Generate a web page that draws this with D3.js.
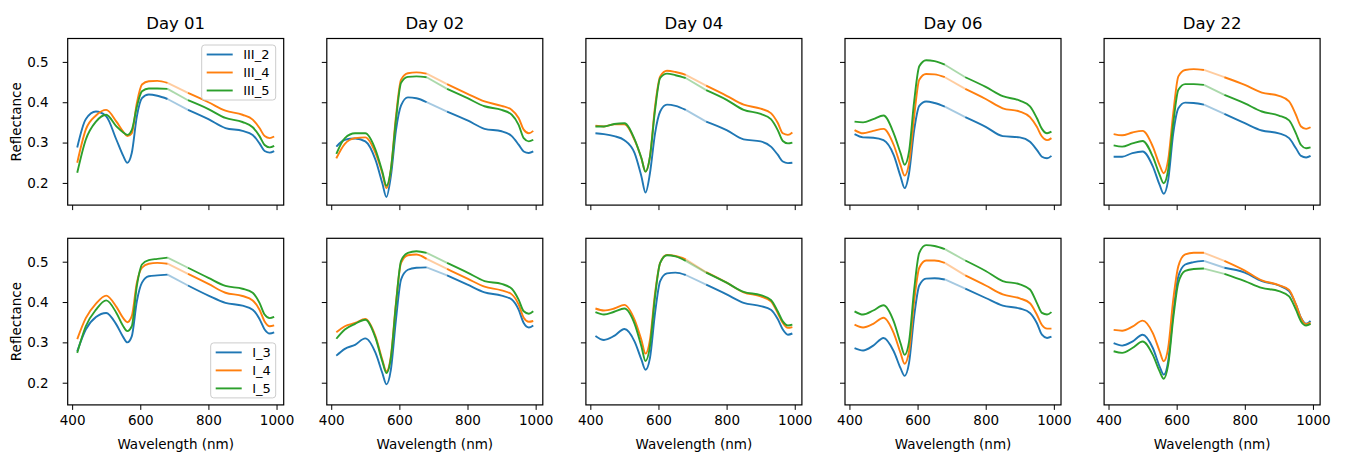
<!DOCTYPE html>
<html>
<head>
<meta charset="utf-8">
<script src="https://cdn.jsdelivr.net/npm/d3@7"></script>
<style>
  body { margin: 0; background: #fff; }
  svg text { font-family: "DejaVu Sans", sans-serif; fill: #000; }
</style>
</head>
<body>
<svg id="chart" width="1345" height="455"></svg>
<script>
// wavelengths (nm) where the spectra were read
const wavelengths = [415, 440, 470, 500, 530, 550, 562, 575, 590, 605, 625, 650, 680, 740, 800, 850, 900, 930, 950, 965, 980, 993]
const days = ['Day 01', 'Day 02', 'Day 04', 'Day 06', 'Day 22']
const topSeries = ['III_2', 'III_4', 'III_5']
const bottomSeries = ['I_3', 'I_4', 'I_5']
const xTicks = [400, 600, 800, 1000]
const yTicks = [0.2, 0.3, 0.4, 0.5]
const colors = ['#1f77b4', '#ff7f0e', '#2ca02c']

// top row: III_2, III_4, III_5
const d01Top = [
  [0.288,0.358,0.377,0.365,0.307,0.267,0.25,0.274,0.365,0.41,0.419,0.416,0.408,0.381,0.358,0.336,0.329,0.319,0.298,0.279,0.275,0.279],
  [0.25,0.332,0.367,0.381,0.352,0.327,0.316,0.323,0.398,0.444,0.452,0.453,0.448,0.423,0.4,0.379,0.369,0.357,0.336,0.316,0.311,0.315],
  [0.225,0.307,0.352,0.369,0.34,0.325,0.319,0.331,0.389,0.427,0.434,0.434,0.433,0.405,0.383,0.361,0.351,0.338,0.316,0.294,0.288,0.292]
]
const d02Top = [
  [0.29,0.307,0.31,0.303,0.257,0.199,0.165,0.216,0.33,0.392,0.412,0.41,0.4,0.377,0.355,0.334,0.328,0.316,0.295,0.278,0.274,0.278],
  [0.261,0.297,0.311,0.313,0.274,0.224,0.187,0.233,0.365,0.456,0.472,0.474,0.471,0.445,0.421,0.402,0.391,0.381,0.361,0.332,0.323,0.329],
  [0.272,0.311,0.323,0.323,0.282,0.228,0.193,0.233,0.356,0.448,0.463,0.464,0.462,0.433,0.41,0.39,0.381,0.369,0.344,0.311,0.303,0.307]
]
const d04Top = [
  [0.323,0.321,0.316,0.306,0.274,0.216,0.176,0.224,0.323,0.377,0.394,0.391,0.381,0.352,0.331,0.308,0.303,0.29,0.27,0.253,0.249,0.25],
  [0.342,0.34,0.345,0.345,0.306,0.261,0.228,0.265,0.39,0.464,0.478,0.475,0.468,0.441,0.416,0.394,0.384,0.373,0.349,0.323,0.319,0.325],
  [0.34,0.34,0.346,0.348,0.308,0.261,0.228,0.265,0.381,0.46,0.471,0.467,0.46,0.43,0.406,0.381,0.371,0.358,0.331,0.304,0.298,0.3]
]
const d06Top = [
  [0.321,0.313,0.312,0.306,0.269,0.216,0.187,0.224,0.331,0.391,0.402,0.398,0.389,0.363,0.339,0.316,0.313,0.302,0.282,0.265,0.261,0.267],
  [0.331,0.323,0.329,0.334,0.294,0.244,0.218,0.249,0.365,0.456,0.47,0.469,0.462,0.433,0.408,0.385,0.377,0.363,0.339,0.315,0.306,0.311],
  [0.352,0.35,0.358,0.367,0.323,0.274,0.245,0.278,0.402,0.489,0.504,0.502,0.493,0.462,0.438,0.415,0.404,0.39,0.361,0.334,0.323,0.327]
]
const d22Top = [
  [0.265,0.265,0.274,0.278,0.241,0.195,0.173,0.207,0.323,0.385,0.399,0.398,0.394,0.371,0.348,0.33,0.323,0.311,0.286,0.267,0.263,0.267],
  [0.321,0.318,0.325,0.329,0.29,0.244,0.224,0.257,0.373,0.464,0.48,0.482,0.48,0.462,0.443,0.424,0.416,0.402,0.369,0.34,0.334,0.338],
  [0.293,0.29,0.298,0.304,0.265,0.22,0.199,0.232,0.348,0.431,0.445,0.445,0.443,0.418,0.397,0.377,0.367,0.355,0.323,0.294,0.286,0.288]
]

// bottom row: I_3, I_4, I_5
const d01Bottom = [
  [0.278,0.332,0.363,0.373,0.344,0.313,0.3,0.315,0.402,0.448,0.464,0.466,0.468,0.441,0.416,0.398,0.391,0.381,0.358,0.332,0.322,0.325],
  [0.308,0.36,0.396,0.416,0.388,0.36,0.35,0.365,0.448,0.485,0.495,0.497,0.495,0.47,0.445,0.423,0.415,0.404,0.381,0.352,0.34,0.342],
  [0.274,0.34,0.381,0.404,0.373,0.34,0.328,0.34,0.44,0.493,0.504,0.507,0.51,0.485,0.46,0.44,0.433,0.423,0.398,0.369,0.36,0.363]
]
const d02Bottom = [
  [0.267,0.284,0.294,0.31,0.274,0.224,0.196,0.232,0.356,0.456,0.48,0.485,0.486,0.466,0.443,0.424,0.416,0.406,0.381,0.348,0.337,0.342],
  [0.325,0.34,0.348,0.358,0.315,0.257,0.228,0.265,0.398,0.497,0.516,0.518,0.507,0.482,0.458,0.438,0.429,0.419,0.394,0.361,0.351,0.353],
  [0.309,0.332,0.346,0.356,0.311,0.253,0.224,0.261,0.394,0.502,0.522,0.526,0.522,0.497,0.473,0.452,0.445,0.433,0.406,0.377,0.371,0.377]
]
const d04Bottom = [
  [0.316,0.306,0.316,0.333,0.302,0.257,0.232,0.261,0.373,0.452,0.471,0.473,0.467,0.443,0.419,0.398,0.39,0.381,0.358,0.332,0.319,0.322],
  [0.384,0.379,0.384,0.393,0.356,0.306,0.272,0.306,0.422,0.497,0.517,0.514,0.506,0.474,0.448,0.424,0.414,0.402,0.373,0.348,0.336,0.338],
  [0.375,0.369,0.376,0.384,0.346,0.29,0.254,0.29,0.414,0.497,0.516,0.513,0.502,0.473,0.448,0.425,0.417,0.405,0.377,0.352,0.342,0.344]
]
const d06Bottom = [
  [0.286,0.28,0.292,0.311,0.278,0.236,0.217,0.249,0.365,0.441,0.458,0.459,0.456,0.433,0.41,0.391,0.384,0.373,0.348,0.319,0.311,0.314],
  [0.344,0.337,0.346,0.361,0.323,0.274,0.247,0.278,0.402,0.485,0.503,0.503,0.497,0.466,0.441,0.419,0.409,0.397,0.369,0.343,0.334,0.334],
  [0.377,0.369,0.379,0.392,0.352,0.298,0.269,0.302,0.431,0.522,0.541,0.539,0.531,0.503,0.477,0.452,0.444,0.431,0.398,0.373,0.369,0.375]
]
const d22Bottom = [
  [0.298,0.292,0.302,0.319,0.286,0.24,0.22,0.253,0.373,0.464,0.493,0.499,0.502,0.485,0.473,0.452,0.441,0.427,0.394,0.361,0.346,0.353],
  [0.331,0.329,0.339,0.354,0.323,0.278,0.253,0.286,0.406,0.489,0.518,0.522,0.522,0.502,0.478,0.454,0.442,0.43,0.394,0.36,0.345,0.349],
  [0.278,0.274,0.286,0.302,0.269,0.228,0.21,0.244,0.36,0.448,0.477,0.482,0.483,0.47,0.452,0.435,0.427,0.414,0.381,0.352,0.342,0.346]
]

const rows = [
  { series: topSeries, data: [d01Top, d02Top, d04Top, d06Top, d22Top] },
  { series: bottomSeries, data: [d01Bottom, d02Bottom, d04Bottom, d06Bottom, d22Bottom] }
]

// layout
const panelW = 216, panelH = 166.6
const left0 = 67.7, stepX = 259.1
const rowTops = [38.5, 238.3]
const tickLen = 5, lineW = 1.9
const fadeFrom = 680, fadeTo = 740

const x = d3.scaleLinear().domain([387, 1021]).range([0, panelW])
const y = d3.scaleLinear().domain([0.145, 0.558]).range([panelH, 0])

const svg = d3.select('#chart')

const smooth = d3.line().x(d => x(d.w)).y(d => y(d.v)).curve(d3.curveMonotoneX)
const straight = d3.line().x(d => x(d.w)).y(d => y(d.v))

rows.forEach((row, ri) => {
  row.data.forEach((panel, ci) => {
    const g = svg.append('g').attr('transform', `translate(${left0 + ci * stepX},${rowTops[ri]})`)

    // x axis
    const xa = g.append('g').attr('transform', `translate(0,${panelH})`)
      .call(d3.axisBottom(x).tickValues(xTicks).tickSize(tickLen).tickPadding(5.5)
        .tickFormat(ri === 1 ? d3.format('d') : () => ''))
    xa.select('.domain').remove()
    xa.selectAll('line').attr('stroke', '#000').attr('stroke-width', 1)
    xa.selectAll('text').style('font-size', '13.5px').attr('fill', '#000')

    // y axis
    const ya = g.append('g')
      .call(d3.axisLeft(y).tickValues(yTicks).tickSize(tickLen).tickPadding(ci === 0 ? 14 : 5)
        .tickFormat(ci === 0 ? d3.format('.1f') : () => ''))
    ya.select('.domain').remove()
    ya.selectAll('line').attr('stroke', '#000').attr('stroke-width', 1)
    ya.selectAll('text').style('font-size', '13.5px').attr('fill', '#000')

    // spectra: solid, faded 680-740, solid
    panel.forEach((vals, si) => {
      const pts = wavelengths.map((w, i) => ({ w, v: vals[i] }))
      const a = pts.filter(p => p.w <= fadeFrom)
      const b = pts.filter(p => p.w >= fadeFrom && p.w <= fadeTo)
      const c = pts.filter(p => p.w >= fadeTo)
      g.append('path').attr('d', smooth(a)).attr('fill', 'none')
        .attr('stroke', colors[si]).attr('stroke-width', lineW)
      g.append('path').attr('d', straight(b)).attr('fill', 'none')
        .attr('stroke', colors[si]).attr('stroke-opacity', 0.4).attr('stroke-width', lineW)
      g.append('path').attr('d', smooth(c)).attr('fill', 'none')
        .attr('stroke', colors[si]).attr('stroke-width', lineW)
    })

    // frame
    g.append('rect').attr('width', panelW).attr('height', panelH)
      .attr('fill', 'none').attr('stroke', '#000').attr('stroke-width', 1.2)

    if (ri === 0) {
      g.append('text').attr('x', panelW / 2).attr('y', 29.3 - rowTops[0])
        .attr('text-anchor', 'middle').style('font-size', '16.5px').text(days[ci])
    } else {
      g.append('text').attr('x', panelW / 2).attr('y', 449 - rowTops[1])
        .attr('text-anchor', 'middle').style('font-size', '13.5px').text('Wavelength (nm)')
    }

    if (ci === 0) {
      g.append('text').attr('transform', `translate(${16 - left0 + 5},${panelH / 2}) rotate(-90)`)
        .attr('text-anchor', 'middle').style('font-size', '13.5px').text('Reflectance')

      // legend
      const lw = ri === 0 ? 74 : 65, lh = 55
      const lx = panelW - 8 - lw
      const ly = ri === 0 ? 6.5 : panelH - 7 - lh
      const lg = g.append('g').attr('transform', `translate(${lx},${ly})`)
      lg.append('rect').attr('width', lw).attr('height', lh).attr('rx', 3)
        .attr('fill', '#fff').attr('fill-opacity', 0.8).attr('stroke', '#ccc').attr('stroke-width', 1)
      row.series.forEach((name, si) => {
        const cy = 9.5 + si * 18
        lg.append('line').attr('x1', 5).attr('x2', 31).attr('y1', cy).attr('y2', cy)
          .attr('stroke', colors[si]).attr('stroke-width', lineW)
        lg.append('text').attr('x', 41.5).attr('y', cy).attr('dy', '0.36em')
          .style('font-size', '13px').text(name)
      })
    }
  })
})
</script>
</body>
</html>
